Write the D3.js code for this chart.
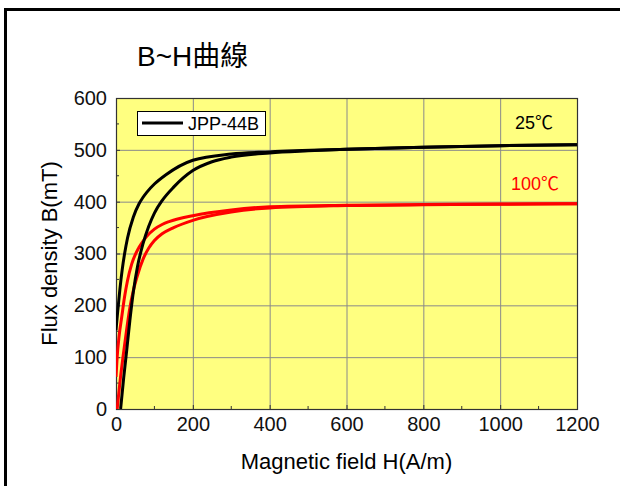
<!DOCTYPE html>
<html>
<head>
<meta charset="utf-8">
<script src="https://cdn.jsdelivr.net/npm/d3@7"></script>
<style>
  body { margin: 0; background: #fff; }
  text { font-family: Arial, "Liberation Sans", "Noto Sans CJK TC", sans-serif; }
</style>
</head>
<body>
<div id="chart"></div>
<script>
// H (A/m) and B (mT)
const black25Up = [[12,0],[20,60],[28,114],[36,170],[45,225],[56,275],[70,318],[85,352],[100,378],[120,402],[150,428],[200,460],[250,477],[300,486],[400,494],[500,498],[600,501],[800,505],[1000,508],[1200,510]];
const black25Down = [[0,152],[4,185],[10,230],[16,268],[22,298],[30,330],[45,370],[60,396],[70,408],[80,418],[100,434],[130,452],[200,480],[300,492],[400,496],[600,501],[800,505],[1000,508],[1200,510]];
const red100Up = [[3,0],[10,50],[19,105],[28,155],[36,195],[45,228],[56,258],[71,290],[85,310],[100,325],[120,338],[150,350],[200,364],[300,380],[400,388],[600,392.5],[800,394],[1000,395],[1200,396]];
const red100Down = [[0,62],[3,100],[8,140],[15,178],[22,215],[30,248],[41,280],[60,312],[80,333],[100,347],[120,356],[140,362],[200,373],[300,384],[400,390],[600,393],[800,394.5],[1000,395.5],[1200,396]];

const xTicks = [0, 200, 400, 600, 800, 1000, 1200];
const yTicks = [0, 100, 200, 300, 400, 500, 600];
const xMinor = [100, 300, 500, 700, 900, 1100];
const yMinor = [50, 150, 250, 350, 450, 550];

const W = 620, H = 486;
const plot = { left: 116, right: 577, top: 98, bottom: 409 };

const x = d3.scaleLinear().domain([0, 1200]).range([plot.left, plot.right]);
const y = d3.scaleLinear().domain([0, 600]).range([plot.bottom, plot.top]);

const svg = d3.select("#chart").append("svg")
    .attr("width", W)
    .attr("height", H);

// outer frame (runs off the right and bottom edges)
svg.append("rect")
    .attr("x", 5.5).attr("y", 9.5)
    .attr("width", 700).attr("height", 600)
    .attr("fill", "none")
    .attr("stroke", "#000")
    .attr("stroke-width", 3);

// title
svg.append("text")
    .attr("x", 137).attr("y", 66)
    .attr("font-size", 28)
    .text("B~H曲線");

// plot background
svg.append("rect")
    .attr("x", plot.left).attr("y", plot.top)
    .attr("width", plot.right - plot.left)
    .attr("height", plot.bottom - plot.top)
    .attr("fill", "#ffff80");

// grid
svg.append("g").selectAll("line").data(xTicks.slice(1, -1)).join("line")
    .attr("x1", d => x(d) + 0.5).attr("x2", d => x(d) + 0.5)
    .attr("y1", plot.top).attr("y2", plot.bottom)
    .attr("stroke", "#8a8a8a").attr("stroke-width", 1);
svg.append("g").selectAll("line").data(yTicks.slice(1, -1)).join("line")
    .attr("y1", d => y(d) + 0.5).attr("y2", d => y(d) + 0.5)
    .attr("x1", plot.left).attr("x2", plot.right)
    .attr("stroke", "#8a8a8a").attr("stroke-width", 1);

// axes, ticks inward
const xAxis = d3.axisBottom(x).tickValues(xTicks).tickSize(-4).tickPadding(8).tickFormat(d3.format("d"));
const yAxis = d3.axisLeft(y).tickValues(yTicks).tickSize(-4).tickPadding(8);

const gx = svg.append("g")
    .attr("transform", `translate(0,${plot.bottom})`)
    .call(xAxis);
const gy = svg.append("g")
    .attr("transform", `translate(${plot.left},0)`)
    .call(yAxis);
[gx, gy].forEach(g => {
    g.select(".domain").remove();
    g.selectAll("text").attr("font-size", 20).attr("fill", "#111")
        .style("font-family", 'Arial, "Liberation Sans", sans-serif');
    g.selectAll("line").attr("stroke", "#333");
});
gy.selectAll("text").attr("dx", -1);

// minor ticks
svg.append("g").selectAll("line").data(xMinor).join("line")
    .attr("x1", d => x(d)).attr("x2", d => x(d))
    .attr("y1", plot.bottom).attr("y2", plot.bottom - 3)
    .attr("stroke", "#333");
svg.append("g").selectAll("line").data(yMinor).join("line")
    .attr("y1", d => y(d)).attr("y2", d => y(d))
    .attr("x1", plot.left).attr("x2", plot.left + 3)
    .attr("stroke", "#333");

// plot border
svg.append("rect")
    .attr("x", plot.left + 0.5).attr("y", plot.top + 0.5)
    .attr("width", plot.right - plot.left)
    .attr("height", plot.bottom - plot.top)
    .attr("fill", "none")
    .attr("stroke", "#333")
    .attr("stroke-width", 1.2);

// curves
svg.append("clipPath").attr("id", "clip")
    .append("rect")
    .attr("x", plot.left).attr("y", plot.top)
    .attr("width", plot.right - plot.left)
    .attr("height", plot.bottom - plot.top);

const line = d3.line()
    .x(d => x(d[0]))
    .y(d => y(d[1]))
    .curve(d3.curveMonotoneX);

const curves = [
    { data: red100Up, color: "#ff0000" },
    { data: red100Down, color: "#ff0000" },
    { data: black25Up, color: "#000000" },
    { data: black25Down, color: "#000000" },
];
const cg = svg.append("g").attr("clip-path", "url(#clip)");
curves.forEach(c => {
    cg.append("path")
        .datum(c.data)
        .attr("d", line)
        .attr("fill", "none")
        .attr("stroke", c.color)
        .attr("stroke-width", 3)
        .attr("stroke-linejoin", "round");
});

// temperature labels
svg.append("text")
    .attr("x", 515).attr("y", 129)
    .attr("font-size", 18)
    .attr("fill", "#000")
    .text("25℃");
svg.append("text")
    .attr("x", 511).attr("y", 190)
    .attr("font-size", 18)
    .attr("fill", "#ff0000")
    .text("100℃");

// legend
const legend = svg.append("g");
legend.append("rect")
    .attr("x", 137.5).attr("y", 111.5)
    .attr("width", 128).attr("height", 24)
    .attr("fill", "#fff")
    .attr("stroke", "#000")
    .attr("stroke-width", 1);
legend.append("line")
    .attr("x1", 142).attr("x2", 183)
    .attr("y1", 123).attr("y2", 123)
    .attr("stroke", "#000")
    .attr("stroke-width", 3);
legend.append("text")
    .attr("x", 188).attr("y", 130)
    .attr("font-size", 18)
    .text("JPP-44B");

// axis labels
svg.append("text")
    .attr("x", (plot.left + plot.right) / 2)
    .attr("y", 469)
    .attr("text-anchor", "middle")
    .attr("font-size", 22)
    .text("Magnetic field H(A/m)");
svg.append("text")
    .attr("transform", `translate(57,${(plot.top + plot.bottom) / 2}) rotate(-90)`)
    .attr("text-anchor", "middle")
    .attr("font-size", 22)
    .text("Flux density B(mT)");
</script>
</body>
</html>
